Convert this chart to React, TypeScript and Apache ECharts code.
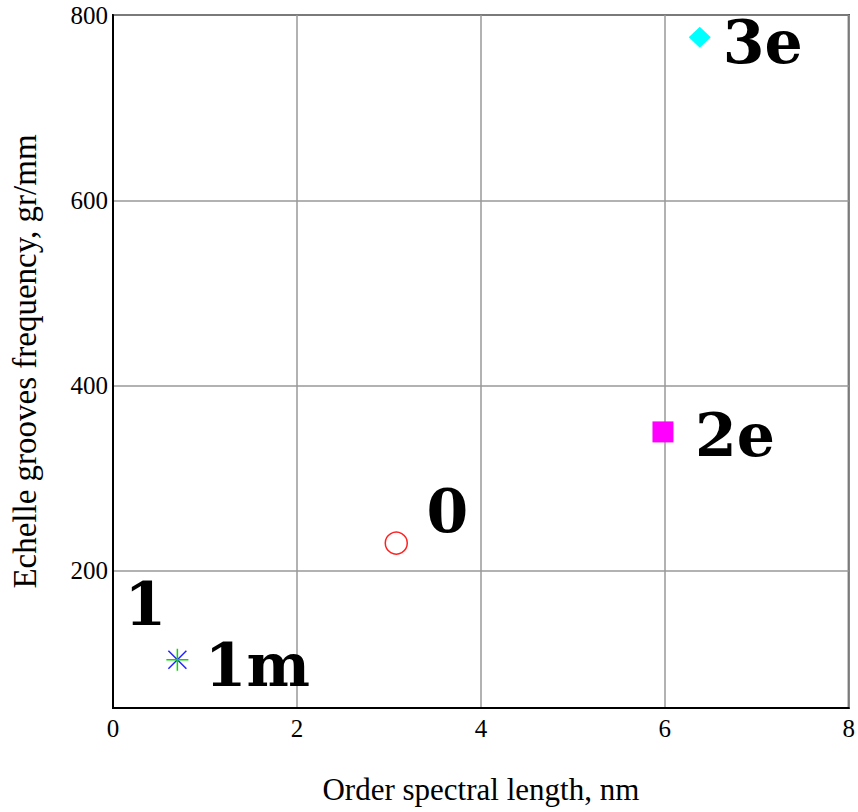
import React, { useEffect, useRef } from "react";
import * as echarts from "echarts";

const pointNames = ["1", "1m", "0", "2e", "3e"];
const orderLength = [0.7, 0.7, 3.08, 5.98, 6.38];
const grooveFreq = [104, 104, 230, 350, 776];
const yTicks = [200, 400, 600, 800];
const xTicks = [0, 2, 4, 6, 8];

const symbols = [
  "path://M5,0L5,10M0,5L10,5",
  "path://M0,0L10,10M10,0L0,10",
  "circle",
  "rect",
  "diamond",
];
const symbolSizes = [22, 18, 22, 21, [22, 21]];
const colors = ["#00dd00", "#2222ff", "#ff2020", "#ff00ff", "#00ffff"];
const labelOffsets = [
  [-32, -56],
  [80, 5],
  [51, -32],
  [72, 3],
  [63, 5],
];

export default function App() {
  const ref = useRef<HTMLDivElement>(null);
  useEffect(() => {
    document.body.style.margin = "0";
    const chart = echarts.init(ref.current!, null, { renderer: "svg" });
    const series = pointNames.map((name, i) => {
      const stroked = i < 3;
      return {
        type: "scatter",
        name,
        data: [[orderLength[i], grooveFreq[i]]],
        symbol: symbols[i],
        symbolSize: symbolSizes[i],
        itemStyle: stroked
          ? { color: "transparent", borderColor: colors[i], borderWidth: 1.5, opacity: 1 }
          : { color: colors[i], opacity: 1 },
        label: {
          show: true,
          formatter: name,
          position: "inside",
          offset: labelOffsets[i],
          fontFamily: "DejaVu Serif",
          fontWeight: "bold",
          fontSize: 60,
          color: "#000",
          opacity: 1,
          align: "center",
          verticalAlign: "middle",
        },
        emphasis: { disabled: true },
        z: i === 0 ? 6 : 5,
      };
    });
    chart.setOption({
      animation: false,
      backgroundColor: "#fff",
      grid: {
        left: 112,
        right: 6,
        top: 15,
        bottom: 104,
        show: true,
        borderColor: "#222",
        borderWidth: 2,
      },
      xAxis: {
        type: "value",
        min: xTicks[0],
        max: xTicks[xTicks.length - 1],
        interval: 2,
        name: "Order spectral length, nm",
        nameLocation: "middle",
        nameGap: 66,
        nameTextStyle: {
          fontFamily: "Liberation Serif",
          fontSize: 31,
          color: "#000",
        },
        axisLine: { show: true, lineStyle: { color: "#000", width: 2 } },
        axisTick: { show: false },
        axisLabel: {
          fontFamily: "Liberation Serif",
          fontSize: 25,
          color: "#000",
          margin: 8,
          showMinLabel: true,
          showMaxLabel: true,
        },
        splitLine: { show: true, lineStyle: { color: "#999", width: 1.5 } },
      },
      yAxis: {
        type: "value",
        min: 52,
        max: 800,
        name: "Echelle grooves frequency, gr/mm",
        nameLocation: "middle",
        nameGap: 72,
        nameTextStyle: {
          fontFamily: "Liberation Serif",
          fontSize: 33,
          color: "#000",
        },
        axisLine: { show: true, lineStyle: { color: "#000", width: 2 } },
        axisTick: { show: false, customValues: yTicks },
        axisLabel: {
          customValues: yTicks,
          fontFamily: "Liberation Serif",
          fontSize: 25,
          color: "#000",
          margin: 5,
        },
        splitLine: { show: true, lineStyle: { color: "#999", width: 1.5 } },
      },
      series,
    });
    return () => chart.dispose();
  }, []);
  return <div ref={ref} style={{ width: 858, height: 812 }} />;
}
